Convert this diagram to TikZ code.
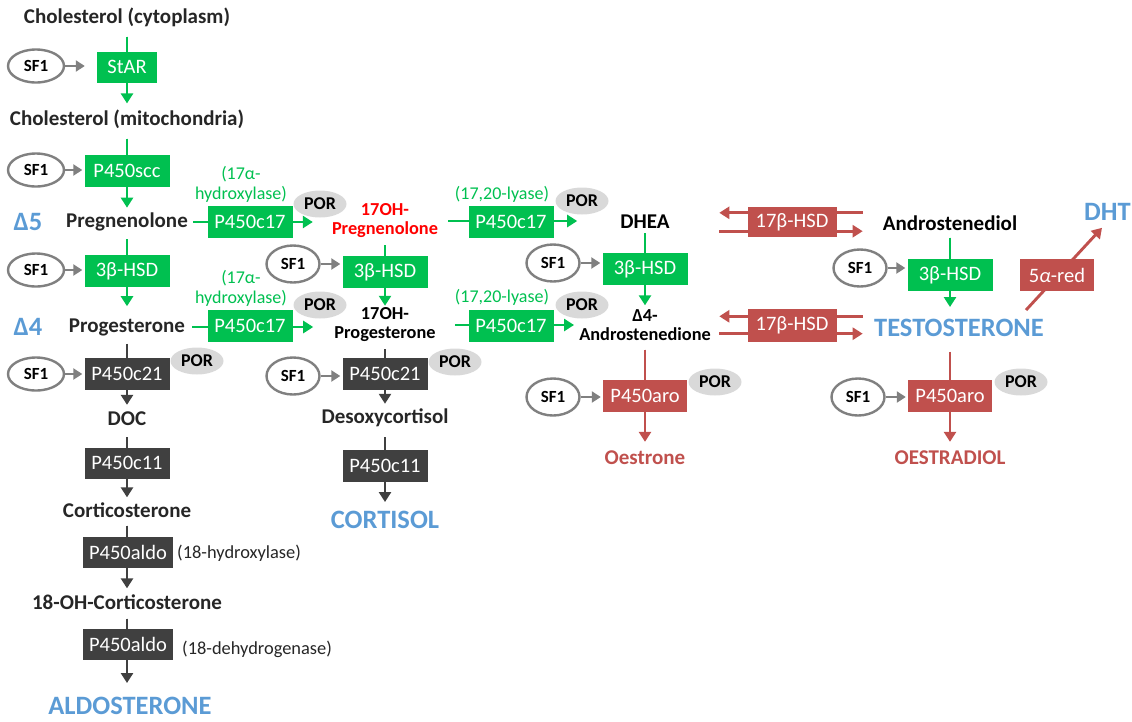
\documentclass[tikz,border=0pt]{standalone}
\usepackage{fontspec}
\setmainfont{Carlito}
\usetikzlibrary{arrows.meta,shapes.geometric,backgrounds}

\definecolor{sgreen}{RGB}{0,192,80}
\definecolor{sdark}{RGB}{64,64,64}
\definecolor{sred}{RGB}{192,80,77}
\definecolor{sblue}{RGB}{91,155,213}
\definecolor{sgray}{RGB}{128,128,128}
\definecolor{spor}{RGB}{217,217,217}
\definecolor{txt}{RGB}{38,38,38}

\tikzset{
  lbl/.style={inner sep=0pt, text=txt, font=\fontsize{21}{25}\selectfont\bfseries},
  lbltwo/.style={inner sep=0pt, align=center, text=black, font=\fontsize{18.3}{19}\selectfont\bfseries},
  enz/.style={inner sep=0pt, minimum width=85pt, minimum height=32pt, text=white, font=\fontsize{20.5}{24}\selectfont},
  gbox/.style={enz, fill=sgreen},
  dbox/.style={enz, fill=sdark},
  rbox/.style={enz, fill=sred},
  sfone/.style={ellipse, draw=sgray, line width=2.4pt, fill=white, minimum width=53pt, minimum height=37pt, inner sep=0pt, text=black, font=\fontsize{17}{20}\selectfont\bfseries},
  sfleft/.style={sfone, minimum width=56pt, minimum height=33pt},
  por/.style={ellipse, fill=spor, minimum width=53pt, minimum height=27pt, inner sep=0pt, text=black, font=\fontsize{18}{20}\selectfont\bfseries},
  hormone/.style={inner sep=0pt, text=sblue, font=\fontsize{26.5}{30}\selectfont\bfseries},
  note/.style={inner sep=0pt, align=center, text=sgreen, font=\fontsize{18}{20}\selectfont},
  remark/.style={inner sep=0pt, anchor=west, text=txt, font=\fontsize{18.4}{22}\selectfont},
  flow/.style={line width=2.9pt, -{Triangle[width=12pt,length=10pt]}},
  gflow/.style={flow, draw=sgreen, fill=sgreen},
  dflow/.style={flow, draw=sdark, fill=sdark},
  rflow/.style={flow, draw=sred, fill=sred},
  sfarrow/.style={line width=2.8pt, draw=sgray, -{Triangle[width=11pt,length=9pt]}, shorten >=2pt},
}

\begin{document}
\begin{tikzpicture}[x=1pt,y=-1pt]
\useasboundingbox (0,0) rectangle (1132,721);

% ---- mineralocorticoid column ----
\node[lbl] (chol1) at (127,17) {Cholesterol (cytoplasm)};
\node[gbox, minimum width=60pt, minimum height=31pt] (star) at (127,67) {StAR};
\node[sfleft] (sfa) at (36,66) {SF1};
\node[lbl] (chol2) at (127,119) {Cholesterol (mitochondria)};
\node[gbox] (scc) at (127,171) {P450scc};
\node[sfleft] (sfb) at (36,170) {SF1};
\node[hormone] (d5) at (28,222) {Δ5};
\node[lbl] (preg) at (127,222) {Pregnenolone};
\node[gbox] (hsda) at (127,271) {3β-HSD};
\node[sfleft] (sfc) at (36,270) {SF1};
\node[hormone] (d4) at (28,327) {Δ4};
\node[lbl] (prog) at (127,327) {Progesterone};
\node[dbox] (cya) at (127,374) {P450c21};
\node[sfleft] (sfd) at (36,374) {SF1};
\node[por] (pora) at (197,361) {POR};
\node[lbl] (doc) at (127,419) {DOC};
\node[dbox, minimum height=31pt] (cza) at (127,463) {P450c11};
\node[lbl] (cortico) at (127,510) {Corticosterone};
\node[dbox, minimum width=90pt, minimum height=31pt] (aldoa) at (128,552) {P450aldo};
\node[remark] (aldoanote) at (177,553) {(18-hydroxylase)};
\node[lbl] (ohc) at (127,602) {18-OH-Corticosterone};
\node[dbox, minimum width=90pt, minimum height=31pt] (aldob) at (128,644) {P450aldo};
\node[remark] (aldobnote) at (182,649) {(18-dehydrogenase)};
\node[hormone] (aldost) at (130,706) {ALDOSTERONE};

% ---- 17-hydroxylation ----
\node[gbox] (hyda) at (250,222) {P450c17};
\node[note] (hydanote) at (241,184) {(17α-\\hydroxylase)};
\node[por] (porb) at (320,204) {POR};
\node[gbox] (hydb) at (250,326) {P450c17};
\node[note] (hydbnote) at (241,288) {(17α-\\hydroxylase)};
\node[por] (porc) at (320,305) {POR};

% ---- glucocorticoid column ----
\node[lbltwo, text=red] (ohpreg) at (385,221) {17OH-\\Pregnenolone};
\node[gbox] (hsdb) at (385,272) {3β-HSD};
\node[sfone] (sfe) at (293,264) {SF1};
\node[lbltwo] (ohprog) at (385,325) {17OH-\\Progesterone};
\node[dbox] (cyb) at (385,374) {P450c21};
\node[sfone] (sff) at (293,376) {SF1};
\node[por] (pord) at (455,362) {POR};
\node[lbl] (desoxy) at (385,418) {Desoxycortisol};
\node[dbox] (czb) at (385,466) {P450c11};
\node[hormone] (cortisol) at (385,520) {CORTISOL};

% ---- 17,20-lyase ----
\node[gbox] (lya) at (511,222) {P450c17};
\node[note] (lyanote) at (502,194) {(17,20-lyase)};
\node[por] (pore) at (582,201) {POR};
\node[gbox] (lyb) at (511,326) {P450c17};
\node[note] (lybnote) at (502,297) {(17,20-lyase)};
\node[por] (porf) at (582,305) {POR};

% ---- androgen / oestrogen columns ----
\node[lbl, text=black] (dhea) at (645,222) {DHEA};
\node[gbox] (hsdc) at (645,269) {3β-HSD};
\node[sfone] (sfg) at (553,263) {SF1};
\node[lbltwo] (andione) at (645,325) {Δ4-\\Androstenedione};
\node[rbox, minimum width=84pt] (aroa) at (645,396) {P450aro};
\node[sfone] (sfh) at (553,397) {SF1};
\node[por] (porg) at (715,382) {POR};
\node[lbl, text=sred] (oestrone) at (645,458) {Oestrone};

\node[rbox, minimum width=89pt, minimum height=30pt] (hsdx) at (792,222) {17β-HSD};
\node[rbox, minimum width=89pt, minimum height=33pt] (hsdy) at (792,325) {17β-HSD};

\node[lbl, text=black] (andiol) at (950,223) {Androstenediol};
\node[gbox] (hsdd) at (950,275) {3β-HSD};
\node[sfone] (sfi) at (860,268) {SF1};
\node[hormone] (testo) at (959,328) {TESTOSTERONE};
\node[rbox, minimum width=84pt] (arob) at (950,396) {P450aro};
\node[sfone] (sfj) at (858,397) {SF1};
\node[por] (porh) at (1021,382) {POR};
\node[lbl, text=sred] (oestradiol) at (950,458) {OESTRADIOL};
\node[rbox, minimum width=74pt] (red5) at (1057,275) {5{\itshape α}-red};
\node[hormone, anchor=west] (dht) at (1084,212) {DHT};

\begin{pgfonlayer}{background}
  % main vertical pathway
  \draw[gflow, shorten <=10pt, shorten >=6pt] (chol1.south) -- (chol1.south |- chol2.north);
  \draw[gflow, shorten <=10pt, shorten >=5pt] (chol2.south) -- (chol2.south |- preg.north);
  \draw[gflow, shorten <=8pt, shorten >=12pt] (preg.south) -- (preg.south |- prog.north);
  \draw[dflow, shorten <=8pt, shorten >=7pt] (prog.south) -- (prog.south |- doc.north);
  \draw[dflow, shorten <=11pt, shorten >=5pt] (doc.south) -- (doc.south |- cortico.north);
  \draw[dflow, shorten <=8pt, shorten >=6pt] (cortico.south) -- (cortico.south |- ohc.north);
  \draw[dflow, shorten <=9pt, shorten >=14pt] (ohc.south) -- (ohc.south |- aldost.north);

  \draw[gflow, shorten <=7pt, shorten >=2pt] (ohpreg.south) -- (ohpreg.south |- ohprog.north);
  \draw[dflow, shorten <=7pt, shorten >=5pt] (ohprog.south) -- (ohprog.south |- desoxy.north);
  \draw[dflow, shorten <=10pt, shorten >=9pt] (desoxy.south) -- (desoxy.south |- cortisol.north);

  \draw[gflow, shorten <=4pt, shorten >=4pt] (dhea.south) -- (dhea.south |- andione.north);
  \draw[rflow, shorten <=9pt, shorten >=9pt] (andione.south) -- (andione.south |- oestrone.north);
  \draw[gflow, shorten <=7pt, shorten >=12pt] (andiol.south) -- (andiol.south |- testo.north);
  \draw[rflow, shorten <=15pt, shorten >=9pt] (testo.south -| andiol.south) -- (andiol.south |- oestradiol.north);

  % horizontal conversions
  \draw[gflow, shorten <=5pt, shorten >=19pt] (preg.east) -- (preg.east -| ohpreg.west);
  \draw[gflow, shorten <=7pt, shorten >=21pt] (prog.east) -- (prog.east -| ohprog.west);
  \draw[gflow, shorten <=10pt, shorten >=43pt] (ohpreg.east) -- (ohpreg.east -| dhea.west);
  \draw[gflow, shorten <=19pt, shorten >=5pt] (ohprog.east) -- (ohprog.east -| andione.west);

  % 17beta-HSD, reversible
  \draw[rflow] ([shift={(26,6)}]hsdx.north east) -- ([shift={(-28,6)}]hsdx.north west);
  \draw[rflow] ([shift={(-28,-6)}]hsdx.south west) -- ([shift={(26,-6)}]hsdx.south east);
  \draw[rflow] ([shift={(26,8)}]hsdy.north east) -- ([shift={(-28,8)}]hsdy.north west);
  \draw[rflow] ([shift={(-28,-8)}]hsdy.south west) -- ([shift={(26,-8)}]hsdy.south east);

  % 5alpha-reduction
  \draw[rflow] ([shift={(-18,-9)}]testo.north east) -- ([shift={(18,7)}]dht.south west);

  % SF1 regulation
  \draw[sfarrow, shorten >=12pt] (sfa.east) -- (sfa.east -| star.west);
  \draw[sfarrow] (sfb.east) -- (sfb.east -| scc.west);
  \draw[sfarrow] (sfc.east) -- (sfc.east -| hsda.west);
  \draw[sfarrow] (sfd.east) -- (sfd.east -| cya.west);
  \draw[sfarrow] (sfe.east) -- (sfe.east -| hsdb.west);
  \draw[sfarrow] (sff.east) -- (sff.east -| cyb.west);
  \draw[sfarrow] (sfg.east) -- (sfg.east -| hsdc.west);
  \draw[sfarrow] (sfh.east) -- (sfh.east -| aroa.west);
  \draw[sfarrow] (sfi.east) -- (sfi.east -| hsdd.west);
  \draw[sfarrow] (sfj.east) -- (sfj.east -| arob.west);
\end{pgfonlayer}
\end{tikzpicture}
\end{document}
